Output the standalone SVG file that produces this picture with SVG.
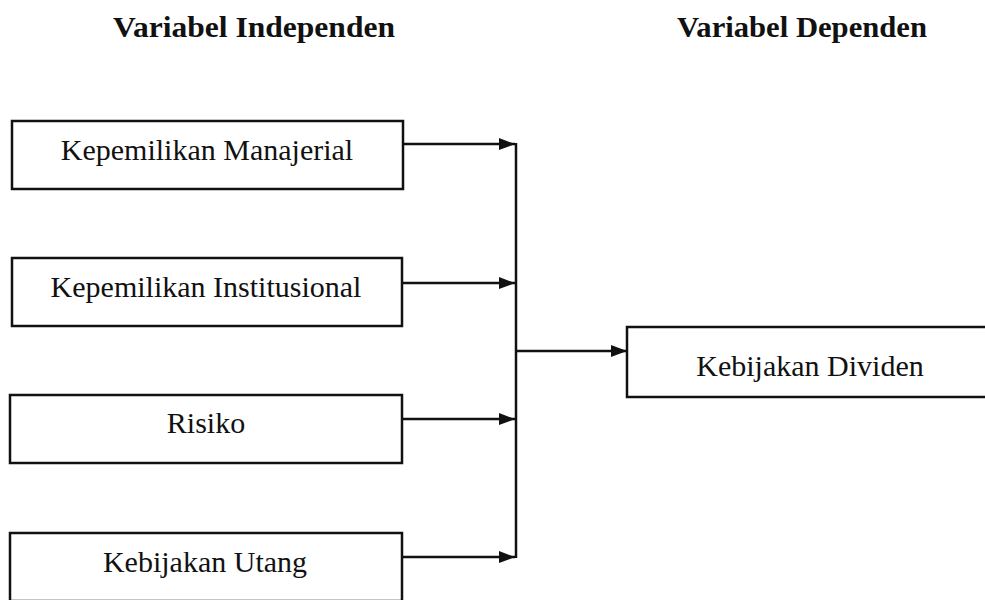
<svg xmlns="http://www.w3.org/2000/svg" width="985" height="600" viewBox="0 0 985 600">
<style>
.box{fill:#fff;stroke:#111;stroke-width:2.5}
.lbl{font-family:"Liberation Serif","Times New Roman",serif;font-size:30px;fill:#111;text-anchor:middle}
.hdr{font-family:"Liberation Serif","Times New Roman",serif;font-size:30px;font-weight:bold;fill:#111}
.ln{fill:none;stroke:#111;stroke-width:2.5}
</style>
<defs>
<marker id="ah" viewBox="0 0 16 12" refX="16" refY="6" markerWidth="16" markerHeight="12" markerUnits="userSpaceOnUse" orient="auto">
<path d="M0,0 L16,6 L0,12 z" fill="#111"/>
</marker>
</defs>
<rect width="985" height="600" fill="#fff"/>
<text class="hdr" x="113" y="37" textLength="282" lengthAdjust="spacingAndGlyphs">Variabel Independen</text>
<text class="hdr" x="677" y="37" textLength="250" lengthAdjust="spacingAndGlyphs">Variabel Dependen</text>
<g id="n1"><rect class="box" x="12" y="121" width="391" height="68"/><text class="lbl" x="207" y="160">Kepemilikan Manajerial</text></g>
<g id="n2"><rect class="box" x="12" y="258" width="390" height="68"/><text class="lbl" x="206" y="297">Kepemilikan Institusional</text></g>
<g id="n3"><rect class="box" x="10" y="395" width="392" height="68"/><text class="lbl" x="206" y="433">Risiko</text></g>
<g id="n4"><rect class="box" x="10" y="533" width="392" height="68"/><text class="lbl" x="205" y="572">Kebijakan Utang</text></g>
<g id="n5"><rect class="box" x="627" y="327" width="362" height="70"/><text class="lbl" x="810" y="376">Kebijakan Dividen</text></g>
<g id="connectors">
<path class="ln" d="M403,144 H515" marker-end="url(#ah)"/>
<path class="ln" d="M402,283 H515" marker-end="url(#ah)"/>
<path class="ln" d="M402,419 H515" marker-end="url(#ah)"/>
<path class="ln" d="M402,557 H515" marker-end="url(#ah)"/>
<path class="ln" d="M516,143 V558"/>
<path class="ln" d="M516,351 H627" marker-end="url(#ah)"/>
</g>
</svg>
